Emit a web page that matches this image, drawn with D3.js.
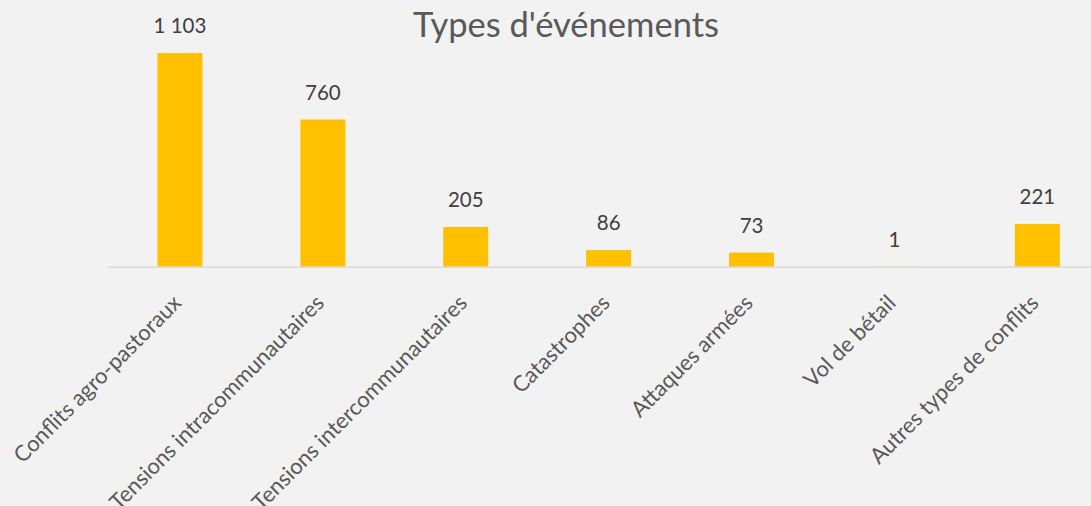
<!DOCTYPE html>
<html><head><meta charset="utf-8">
<script src="https://cdn.jsdelivr.net/npm/d3@7"></script>
<style>
html,body{margin:0;padding:0;background:#f2f2f2;}
svg{display:block;}
</style></head>
<body><svg id="c" width="1091" height="506"></svg>
<script>
const categories = ["Conflits agro-pastoraux","Tensions intracommunautaires","Tensions intercommunautaires","Catastrophes","Attaques armées","Vol de bétail","Autres types de conflits"];
const values = [1103, 760, 205, 86, 73, 1, 221];
const valueLabels = ["1 103","760","205","86","73","1","221"];
const title = "Types d'événements";

const svg = d3.select("#c");
const W = 1091, H = 506;
svg.append("rect").attr("width",W).attr("height",H).attr("fill","#f2f2f2");

const font = "Lato, 'Gill Sans', 'Open Sans', sans-serif";
const x = d3.scaleBand().domain(categories).range([108.5, 108.5 + 7*142.9]).paddingInner(0.685).paddingOuter(0.3425);
const y = d3.scaleLinear().domain([0,1200]).range([266.7, 34.3]);

svg.append("text").attr("x",566).attr("y",37).attr("text-anchor","middle")
  .attr("font-family",font).attr("font-size",34.5).attr("fill","#595959").text(title);

svg.selectAll("rect.bar").data(values).enter().append("rect").attr("class","bar")
  .attr("x",(d,i)=>x(categories[i])).attr("width",x.bandwidth())
  .attr("y",d=>y(d)).attr("height",d=>y(0)-y(d)).attr("fill","#ffc000");

svg.append("line").attr("x1",108.5).attr("x2",W).attr("y1",y(0)+0.5).attr("y2",y(0)+0.5)
  .attr("stroke","#d9d9d9").attr("stroke-width",1.5);

svg.selectAll("text.val").data(values).enter().append("text").attr("class","val")
  .attr("x",(d,i)=>x(categories[i])+x.bandwidth()/2).attr("y",d=>y(d)-20)
  .attr("text-anchor","middle").attr("font-family",font).attr("font-size",20.5).attr("fill","#404040")
  .text((d,i)=>valueLabels[i]);

svg.selectAll("text.cat").data(categories).enter().append("text").attr("class","cat")
  .attr("transform",d=>`translate(${x(d)+x.bandwidth()/2-9},${y(0)+26}) rotate(-45)`)
  .attr("text-anchor","end").attr("dy","0.75em").attr("font-family",font).attr("font-size",22).attr("fill","#595959")
  .text(d=>d);
</script></body></html>
